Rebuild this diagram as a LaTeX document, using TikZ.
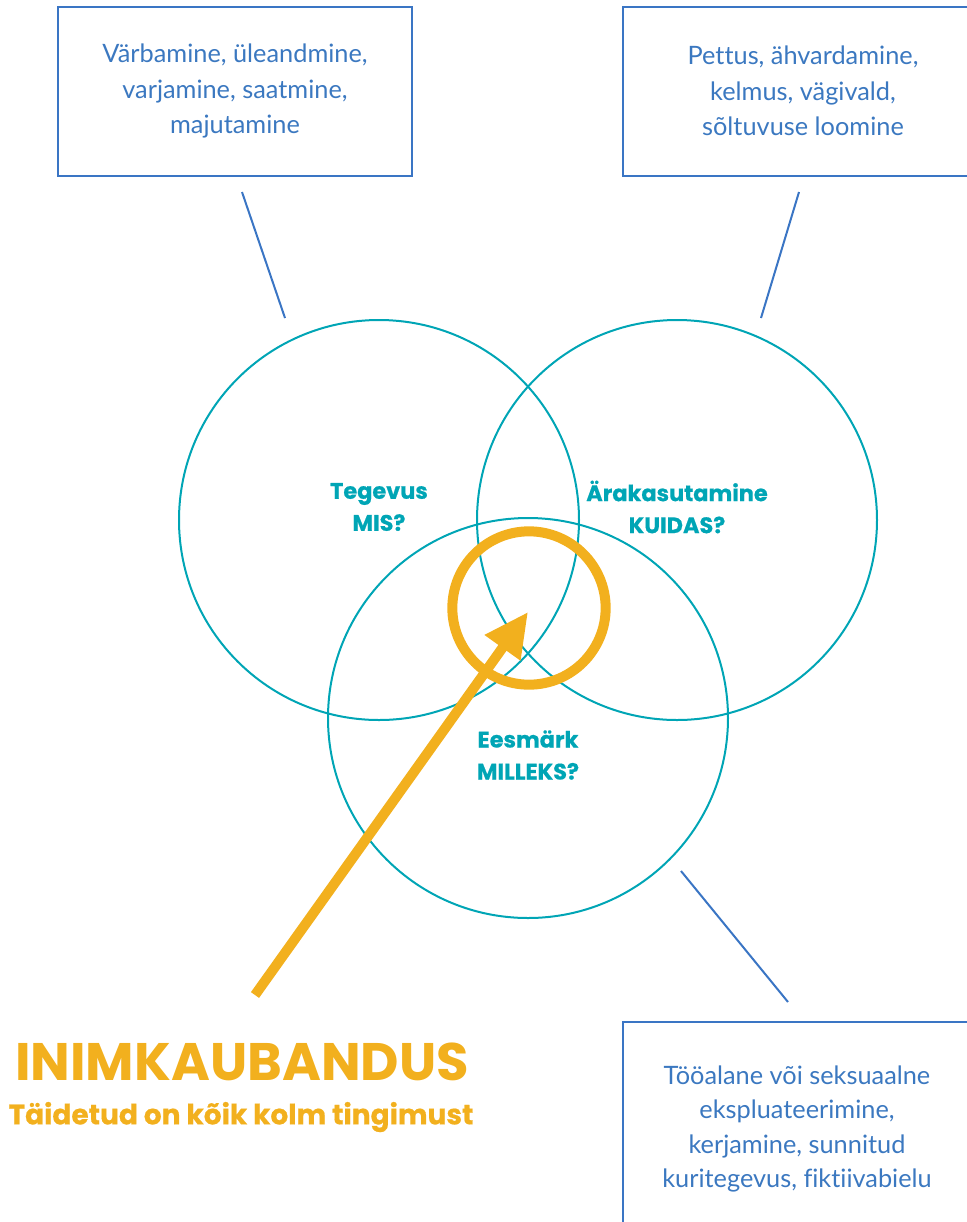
\documentclass[tikz,border=0pt]{standalone}
\usepackage{fontspec}
\setmainfont{Lato}[Ligatures=NoCommon]
\newfontfamily\popfont{Poppins}[BoldFeatures={FakeBold=0.6}]
\newfontfamily\poptitle{Poppins}
\usetikzlibrary{arrows.meta}
\definecolor{boxblue}{HTML}{3A75C4}
\definecolor{txtblue}{HTML}{3B78C0}
\definecolor{teal}{HTML}{00A5B5}
\definecolor{gold}{HTML}{F2B01E}
\tikzset{
  infobox/.style={draw=boxblue, line width=1.6pt, rectangle, inner sep=0pt},
  boxtext/.style={text=txtblue, align=center, font=\fontsize{19}{26.6}\selectfont},
  ring/.style={draw=teal, line width=1.5pt, circle, inner sep=0pt, minimum size=300pt},
  lead/.style={draw=boxblue, line width=1.5pt},
  vlabel/.style={text=teal, align=center, font=\popfont\bfseries\fontsize{16.8}{24}\selectfont},
}
\begin{document}
\begin{tikzpicture}[x=0.75pt, y=-0.75pt]
\useasboundingbox (0,0) rectangle (967,1222);
\begin{scope}
\clip (0,0) rectangle (967,1222);
% boxes
\node[infobox, minimum width=265.5pt, minimum height=126.75pt] (b1) at (235,91.5) {};
\node[boxtext] (t1) at (235,91) {Värbamine, üleandmine,\\varjamine, saatmine,\\majutamine};
\node[infobox, minimum width=277.5pt, minimum height=126.75pt] (b2) at (808,91.5) {};
\node[boxtext] (t2) at (803,91) {Pettus, ähvardamine,\\kelmus, vägivald,\\sõltuvuse loomine};
\node[infobox, minimum width=277.5pt, minimum height=180pt] (b3) at (808,1142) {};
\node[boxtext, font=\fontsize{19}{25.9}\selectfont] (t3) at (797,1129) {Tööalane või seksuaalne\\ekspluateerimine,\\kerjamine, sunnitud\\kuritegevus, fiktiivabielu};
\end{scope}
% leader lines
\coordinate (l1a) at (242,192); \coordinate (l1b) at (285,318);
\coordinate (l2a) at (799,192); \coordinate (l2b) at (761,318);
\coordinate (l3a) at (681,871); \coordinate (l3b) at (788,1002);
\draw[lead] (l1a) -- (l1b);
\draw[lead] (l2a) -- (l2b);
\draw[lead] (l3a) -- (l3b);
% circles
\node[ring] (ca) at (379,520) {};
\node[ring] (cb) at (677,520) {};
\node[ring] (cc) at (528,718) {};
% gold ring and arrow
\node[draw=gold, line width=7.5pt, circle, inner sep=0pt, minimum size=115pt] (core) at (529,608) {};
\coordinate (arrstart) at (255,995);
\coordinate (arrtip) at (528,612);
\draw[gold, line width=7.5pt, -{Triangle[width=31pt,length=33pt]}] (arrstart) -- (arrtip);
% labels
\node[vlabel] (la) at (379,507) {Tegevus\\MIS?};
\node[vlabel] (lb) at (677,507) {Ärakasutamine\\KUIDAS?};
\node[vlabel] (lc) at (528,755) {Eesmärk\\MILLEKS?};
\node[text=gold, font=\poptitle\bfseries\fontsize{39.6}{42}\selectfont] (title) at (242,1062) {INIMKAUBANDUS};
\node[text=gold, font=\popfont\bfseries\fontsize{21}{23}\selectfont] (sub) at (241,1117) {Täidetud on kõik kolm tingimust};
\end{tikzpicture}
\end{document}
